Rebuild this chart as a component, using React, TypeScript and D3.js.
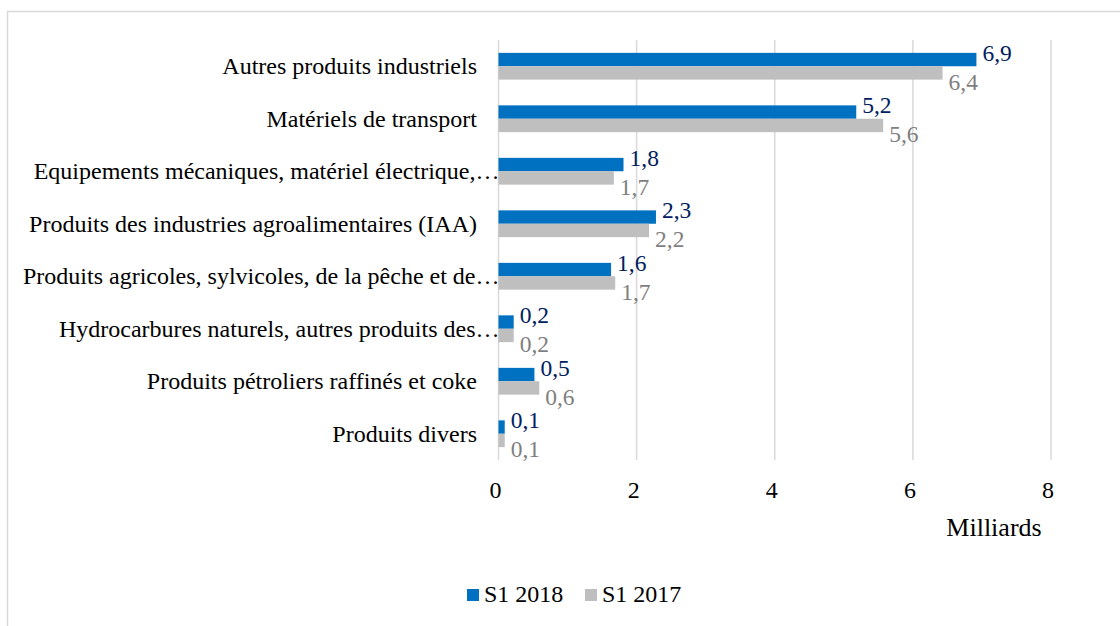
import { useMemo } from "react";
import { scaleBand, scaleLinear } from "d3";

const categories = [
  "Autres produits industriels ",
  "Matériels de transport",
  "Equipements mécaniques, matériel électrique,…",
  "Produits des industries agroalimentaires (IAA)",
  "Produits agricoles, sylvicoles, de la pêche et de…",
  "Hydrocarbures naturels, autres produits des…",
  "Produits pétroliers raffinés et coke",
  "Produits divers",
];
const seriesNames = ["S1 2018", "S1 2017"];
const s2018 = [6.92, 5.18, 1.81, 2.28, 1.63, 0.22, 0.52, 0.09];
const s2017 = [6.43, 5.57, 1.67, 2.18, 1.69, 0.22, 0.59, 0.09];
const xTicks = [0, 2, 4, 6, 8];

const barColors = ["#0070C0", "#BFBFBF"];
const labelColors = ["#002060", "#7F7F7F"];
const font = "'Liberation Serif', 'Times New Roman', serif";

const W = 1120;
const H = 626;

export default function App() {
  const values = [s2018, s2017];

  const x = useMemo(() => scaleLinear().domain([0, 8]).range([498.5, 1051]), []);
  const y = useMemo(
    () =>
      scaleBand<string>()
        .domain(categories)
        .range([40, 460])
        .paddingInner(0.49)
        .paddingOuter(0.245),
    []
  );
  const inner = useMemo(
    () => scaleBand<string>().domain(seriesNames).range([0, y.bandwidth()]),
    [y]
  );

  const fmt = (v: number) => v.toFixed(1).replace(".", ",");

  return (
    <svg
      width={W}
      height={H}
      style={{ position: "absolute", left: 0, top: 0, background: "#fff" }}
      fontFamily={font}
    >
      <rect x={7.5} y={11.5} width={1200} height={700} fill="#fff" stroke="#D9D9D9" strokeWidth={1.5} />

      {/* gridlines */}
      {xTicks.map((t) => (
        <line key={t} x1={x(t)} x2={x(t)} y1={40} y2={460} stroke="#D9D9D9" strokeWidth={1.5} />
      ))}

      {/* bars */}
      {categories.map((c, i) => (
        <g key={c} transform={`translate(0,${y(c)})`}>
          {seriesNames.map((s, k) => (
            <rect
              key={s}
              x={x(0)}
              y={inner(s)}
              width={x(values[k][i]) - x(0)}
              height={inner.bandwidth()}
              fill={barColors[k]}
            />
          ))}
        </g>
      ))}

      {/* data labels */}
      {categories.map((c, i) =>
        seriesNames.map((s, k) => {
          const cy = (y(c) ?? 0) + (inner(s) ?? 0) + inner.bandwidth() / 2;
          return (
            <text
              key={c + s}
              x={x(values[k][i]) + 6}
              y={k === 0 ? cy + 1 : cy + 17}
              fontSize={23.5}
              fill={labelColors[k]}
            >
              {fmt(values[k][i])}
            </text>
          );
        })
      )}

      {/* category labels */}
      {categories.map((c) => (
        <text
          key={c}
          x={c.endsWith("…") ? x(0) + 1 : 477}
          y={(y(c) ?? 0) + y.bandwidth() / 2 + 8}
          textAnchor="end"
          fontSize={24}
          fill="#000"
        >
          {c}
        </text>
      ))}

      {/* x tick labels */}
      {xTicks.map((t) => (
        <text key={t} x={x(t) - 3} y={498} textAnchor="middle" fontSize={24} fill="#000">
          {t}
        </text>
      ))}
      <text x={994} y={536} textAnchor="middle" fontSize={26} fill="#000">
        Milliards
      </text>

      {/* legend */}
      {seriesNames.map((s, k) => (
        <g key={s} transform={`translate(${467 + k * 118},589)`}>
          <rect width={12} height={12} fill={barColors[k]} />
          <text x={17} y={13} fontSize={24} fill="#000">
            {s}
          </text>
        </g>
      ))}
    </svg>
  );
}
